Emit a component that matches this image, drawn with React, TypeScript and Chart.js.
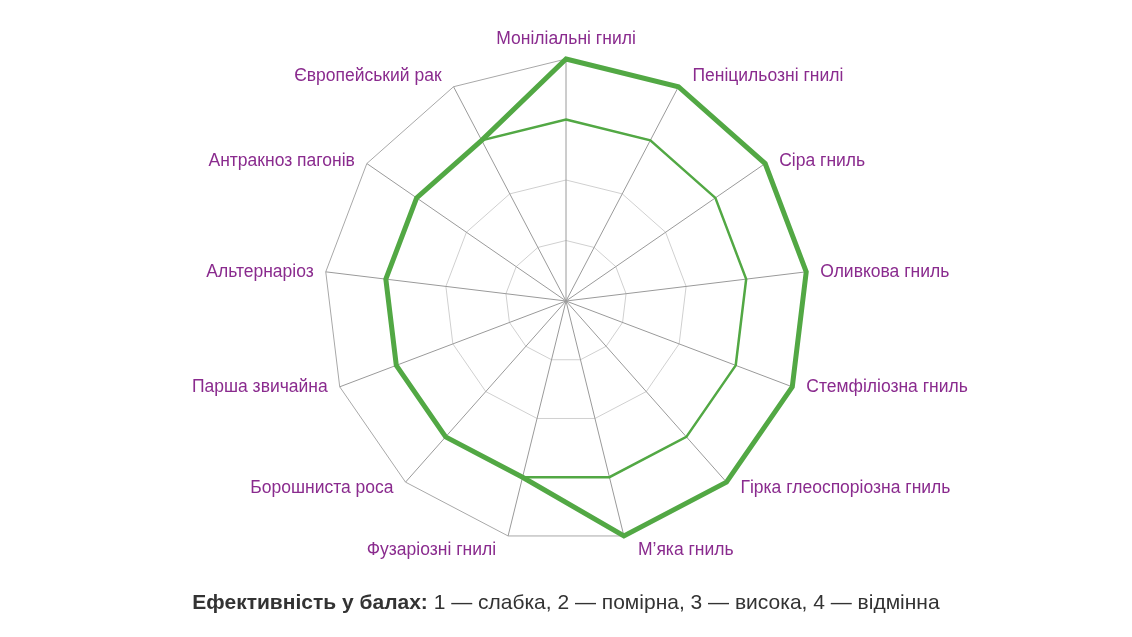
import { useEffect, useRef } from 'react';
import { Chart, registerables } from 'chart.js';
import type { Plugin } from 'chart.js';

Chart.register(...registerables);

const diseases = [
  'Моніліальні гнилі',
  'Пеніцильозні гнилі',
  'Сіра гниль',
  'Оливкова гниль',
  'Стемфіліозна гниль',
  'Гірка глеоспоріозна гниль',
  'М’яка гниль',
  'Фузаріозні гнилі',
  'Борошниста роса',
  'Парша звичайна',
  'Альтернаріоз',
  'Антракноз пагонів',
  'Європейський рак',
];

// thick line
const scoresA = [4, 4, 4, 4, 4, 4, 4, 3, 3, 3, 3, 3, 3];
// thin line
const scoresB = [3, 3, 3, 3, 3, 3, 3, 3, 3, 3, 3, 3, 3];

const scoreMax = 4;

const GREEN = '#52a844';
const PURPLE = '#8a2b8e';

// labels sit beside the outer vertex of each spoke; top/bottom ones drift away a bit
const spokeLabels: Plugin<'radar'> = {
  id: 'spokeLabels',
  afterDraw(chart) {
    const scale: any = chart.scales.r;
    const ctx = chart.ctx;
    ctx.save();
    ctx.font = '17.5px "Liberation Sans", Arial, sans-serif';
    ctx.fillStyle = PURPLE;
    diseases.forEach((name, i) => {
      const angle = scale.getIndexAngle(i);
      const s = Math.sin(angle);
      const c = Math.cos(angle);
      const v = scale.getPointPosition(i, scale.drawingArea);
      if (Math.abs(s) < 0.01 && c > 0) {
        ctx.textAlign = 'center';
        ctx.textBaseline = 'bottom';
        ctx.fillText(name, v.x, v.y - 11);
        return;
      }
      const dy = -15 * c * c * c;
      ctx.textBaseline = 'middle';
      if (s > 0) {
        ctx.textAlign = 'left';
        ctx.fillText(name, v.x + 14, v.y + dy);
      } else {
        ctx.textAlign = 'right';
        ctx.fillText(name, v.x - 12, v.y + dy);
      }
    });
    ctx.restore();
  },
};

function EfficiencyRadar() {
  const canvasRef = useRef<HTMLCanvasElement>(null);
  const chartRef = useRef<Chart<'radar'> | null>(null);

  useEffect(() => {
    const canvas = canvasRef.current;
    if (!canvas) return;
    chartRef.current?.destroy();

    chartRef.current = new Chart(canvas, {
      type: 'radar',
      data: {
        labels: diseases,
        datasets: [
          {
            data: scoresA,
            borderColor: GREEN,
            borderWidth: 5,
            fill: false,
            pointRadius: 0,
            tension: 0,
          },
          {
            data: scoresB,
            borderColor: GREEN,
            borderWidth: 2.5,
            fill: false,
            pointRadius: 0,
            tension: 0,
          },
        ],
      },
      options: {
        responsive: true,
        maintainAspectRatio: false,
        animation: false,
        layout: { padding: { top: 59, bottom: 57 } },
        plugins: {
          legend: { display: false },
          tooltip: { enabled: false },
        },
        scales: {
          r: {
            min: 0,
            max: scoreMax,
            ticks: { display: false, stepSize: 1 },
            pointLabels: { display: false },
            angleLines: { color: '#9a9a9a', lineWidth: 1 },
            grid: {
              color: (ctx) => (ctx.index >= 3 ? '#a8a8a8' : '#d0d0d0'),
              lineWidth: 1,
            },
          },
        },
      },
      plugins: [spokeLabels],
    });

    return () => {
      chartRef.current?.destroy();
      chartRef.current = null;
    };
  }, []);

  return (
    <div style={{ position: 'relative', width: 1132, height: 600 }}>
      <canvas ref={canvasRef} />
    </div>
  );
}

export default function App() {
  return (
    <div
      style={{
        position: 'fixed',
        left: 0,
        top: 0,
        width: 1132,
        height: 637,
        background: '#fff',
        fontFamily: '"Liberation Sans", Arial, sans-serif',
      }}
    >
      <EfficiencyRadar />
      <div
        style={{
          position: 'absolute',
          left: 0,
          top: 589,
          width: 1132,
          textAlign: 'center',
          fontSize: 21,
          lineHeight: '26px',
          color: '#333',
        }}
      >
        <b>Ефективність у балах:</b> 1 — слабка, 2 — помірна, 3 — висока, 4 — відмінна
      </div>
    </div>
  );
}
